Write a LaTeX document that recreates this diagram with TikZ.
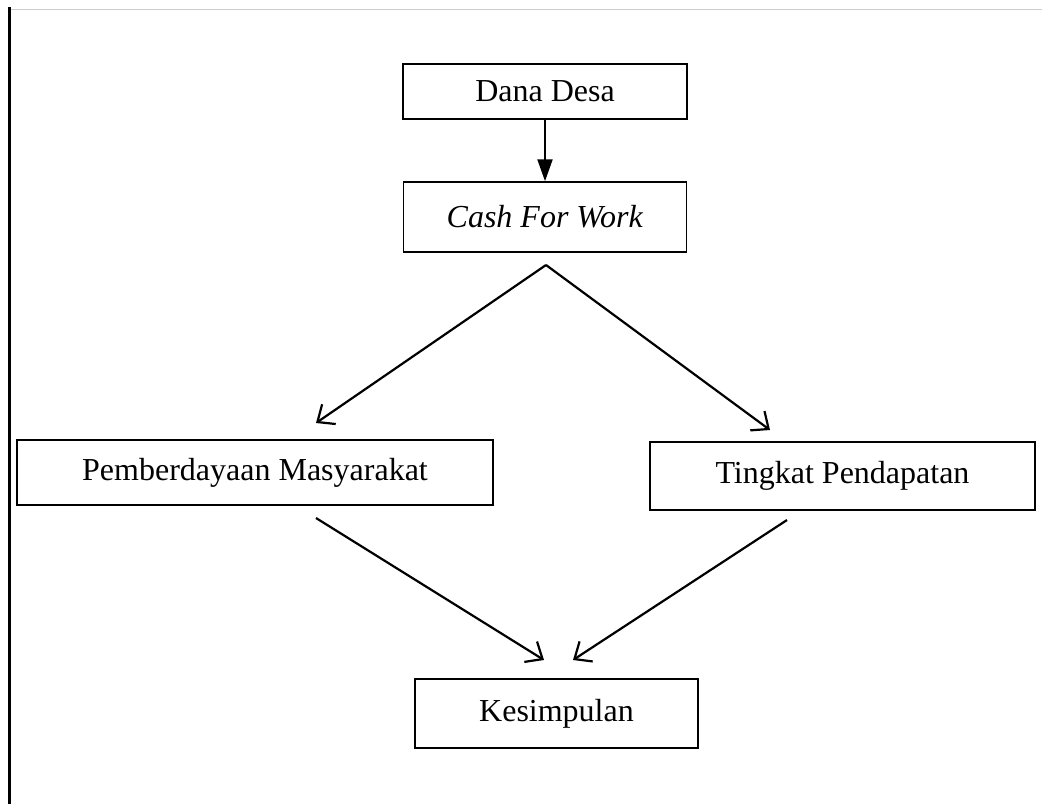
\documentclass[tikz,border=0pt]{standalone}
\usepackage{fontspec}
\setmainfont{Liberation Serif}
\usetikzlibrary{arrows.meta,positioning}

\begin{document}
\begin{tikzpicture}[
  x=0.5pt, y=-0.5pt, font=\fontsize{16}{19}\selectfont,
  box/.style={draw, line width=0.75pt, align=center, inner sep=0pt},
  arrow/.style={-{Triangle[length=11pt,width=7.5pt]}, line width=1.1pt},
  open/.style={-{Straight Barb[length=7pt,width=12pt]}, line width=1.1pt},
  node distance=30.75pt]
\useasboundingbox (0,0) rectangle (1042,804);
% page edge
\draw[line width=1.5pt] (9.5,7) -- (9.5,804);
\draw[black!20, line width=0.5pt] (11,9) -- (1042,9);
% boxes
\node[box, minimum width=142pt, minimum height=27.5pt] (dana) at (545,91.5) {Dana Desa};
\node[box, minimum width=141.5pt, minimum height=35pt, below=of dana] (cash) {\textit{Cash For Work}};
\node[box, minimum width=238pt, minimum height=32.5pt] (pem) at (255,472.5) {Pemberdayaan Masyarakat};
\node[box, minimum width=192.5pt, minimum height=34pt] (ting) at (842.5,476) {Tingkat Pendapatan};
\node[box, minimum width=141.5pt, minimum height=34.5pt] (kes) at (556.5,713.5) {Kesimpulan};
% arrow ends
\coordinate (split) at (546,265);
\coordinate (pemtip) at (316,423);
\coordinate (tingtip) at (770,430);
\coordinate (pemout) at (316,518);
\coordinate (tingout) at (787,520);
\coordinate (kesleft) at (544,660);
\coordinate (kesright) at (573,660);
% connectors
\draw[arrow] (dana) -- (cash);
\draw[open] (split) -- (pemtip);
\draw[open] (split) -- (tingtip);
\draw[open] (pemout) -- (kesleft);
\draw[open] (tingout) -- (kesright);
\end{tikzpicture}
\end{document}
